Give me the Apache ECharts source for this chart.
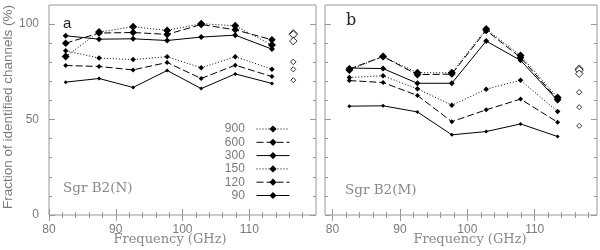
<!DOCTYPE html>
<html><head><meta charset="utf-8">
<script src="https://cdn.jsdelivr.net/npm/echarts@6/dist/echarts.min.js"></script>
<style>html,body{margin:0;padding:0;background:#fff}#c{width:600px;height:250px}</style>
</head><body><div id="c"></div>
<script>
// Frequencies (GHz) of the band centres
const freqs = [82.5, 87.5, 92.6, 97.7, 102.8, 107.9, 113.4];
const avgFreq = 116.6;
const seriesNames = ['900', '600', '300', '150', '120', '90'];
// Sgr B2(N)
const n900 = [83.0, 95.8, 98.6, 96.7, 100.2, 99.1, 89.0];
const n600 = [90.0, 95.3, 95.6, 94.6, 99.8, 97.0, 91.8];
const n300 = [93.9, 92.1, 92.3, 91.4, 93.2, 94.2, 86.9];
const n150 = [86.0, 82.2, 81.4, 82.9, 77.1, 82.9, 76.4];
const n120 = [78.3, 77.8, 76.0, 79.9, 71.5, 78.5, 72.5];
const n90  = [69.6, 71.5, 66.8, 75.7, 66.2, 73.9, 68.9];
const nAvg = [95.0, 94.5, 91.1, 80.2, 76.3, 70.6];
// Sgr B2(M)
const m900 = [76.0, 83.0, 74.5, 74.5, 97.4, 83.5, 61.5];
const m600 = [76.5, 83.0, 73.5, 73.8, 96.7, 82.5, 60.5];
const m300 = [77.0, 76.7, 69.0, 69.0, 91.1, 81.0, 60.0];
const m150 = [72.0, 72.9, 66.1, 57.5, 65.9, 70.6, 54.2];
const m120 = [70.4, 69.4, 62.6, 48.9, 55.1, 60.7, 48.6];
const m90  = [57.0, 57.2, 54.0, 42.0, 43.7, 47.7, 41.1];
const mAvg = [76.5, 75.8, 74.0, 64.3, 56.5, 46.7];
// tick values
const xMajor = [80, 90, 100, 110];
const xMinor = [82, 84, 86, 88, 92, 94, 96, 98, 102, 104, 106, 108, 112, 114, 116, 118];
const yMajor = [0, 50, 100];
const yMinor = [10, 20, 30, 40, 60, 70, 80, 90];

const styles = {
  '900': {type: [1, 2], size: 8},
  '600': {type: [7, 3], size: 7.5},
  '300': {type: 'solid', size: 6},
  '150': {type: [1, 2], size: 5.5},
  '120': {type: [7, 3], size: 5},
  '90':  {type: 'solid', size: 4}
};
const avgSizes = [8, 8, 7.5, 5.5, 5, 5];

const gray = '#999';
const txt = '#7a7a7a';
const panels = [
  {grid: {left: 49, top: 5, width: 267, height: 210}, xmin: 80, xmax: 120,
   data: [n900, n600, n300, n150, n120, n90], avg: nAvg, ylabels: true},
  {grid: {left: 325, top: 5, width: 272, height: 210}, xmin: 78.89, xmax: 119.24,
   data: [m900, m600, m300, m150, m120, m90], avg: mAvg, ylabels: false}
];

const grid = [], xAxis = [], yAxis = [], series = [];
panels.forEach((p, gi) => {
  grid.push(Object.assign({show: true, borderColor: gray, borderWidth: 1, backgroundColor: 'transparent'}, p.grid));
  const xBase = {type: 'value', gridIndex: gi, min: p.xmin, max: p.xmax, splitLine: {show: false}, axisLine: {show: false}};
  const yBase = {type: 'value', gridIndex: gi, min: 0, max: 110, splitLine: {show: false}, axisLine: {show: false}};
  [['bottom', xMajor, 6, true], ['bottom', xMinor, 3, false], ['top', xMajor, 6, false], ['top', xMinor, 3, false]].forEach(([pos, vals, len, lab]) => {
    xAxis.push(Object.assign({}, xBase, {position: pos,
      axisTick: {show: true, inside: true, length: len, customValues: vals, lineStyle: {color: gray}},
      axisLabel: {show: lab, customValues: vals, color: txt, fontFamily: 'Liberation Sans', fontSize: 12, margin: 9}}));
  });
  [['left', yMajor, 6, p.ylabels], ['left', yMinor, 3, false], ['right', yMajor, 6, false], ['right', yMinor, 3, false]].forEach(([pos, vals, len, lab]) => {
    yAxis.push(Object.assign({}, yBase, {position: pos,
      axisTick: {show: true, inside: true, length: len, customValues: vals, lineStyle: {color: gray}},
      axisLabel: {show: lab, customValues: vals, color: txt, fontFamily: 'Liberation Sans', fontSize: 12, margin: 10}}));
  });
  seriesNames.forEach((nm, si) => {
    const st = styles[nm];
    series.push({
      name: nm, type: 'line', xAxisIndex: gi * 4, yAxisIndex: gi * 4,
      data: freqs.map((f, i) => [f, p.data[si][i]]),
      symbol: 'diamond', symbolSize: st.size, showSymbol: true,
      lineStyle: {color: '#000', width: 1, type: st.type},
      itemStyle: {color: '#000'}, animation: false, z: 3
    });
  });
  series.push({
    name: 'avg', type: 'scatter', xAxisIndex: gi * 4, yAxisIndex: gi * 4,
    data: p.avg.map((v, i) => ({value: [avgFreq, v], symbolSize: avgSizes[i]})),
    symbol: 'diamond',
    itemStyle: {color: '#fff', borderColor: '#000', borderWidth: 1}, animation: false
  });
});

const chart = echarts.init(document.getElementById('c'), null, {renderer: 'canvas'});
chart.setOption({
  animation: false,
  grid, xAxis, yAxis, series,
  legend: {
    data: seriesNames, orient: 'vertical', align: 'right', right: 305, top: 117.5,
    itemWidth: 33, itemHeight: 9, itemGap: 0.3, selectedMode: false,
    lineStyle: {width: 1},
    formatter: n => n + '  ',
    textStyle: {color: txt, fontFamily: 'Liberation Sans', fontSize: 12, lineHeight: 13}
  },
  graphic: [
    {type: 'text', left: 63, top: 16, style: {text: 'a', fill: '#222', font: '15px "Liberation Sans"'}},
    {type: 'text', left: 346, top: 13, style: {text: 'b', fill: '#222', font: '16px "DejaVu Serif"'}},
    {type: 'text', left: 63, top: 181, style: {text: 'Sgr B2(N)', fill: '#888', font: '13.5px "DejaVu Serif"'}},
    {type: 'text', left: 345, top: 183, style: {text: 'Sgr B2(M)', fill: '#888', font: '13.5px "DejaVu Serif"'}},
    {type: 'text', x: 170, y: 240, style: {text: 'Frequency (GHz)', fill: '#888', font: '13px "DejaVu Serif"', align: 'center', verticalAlign: 'middle'}},
    {type: 'text', x: 470, y: 240, style: {text: 'Frequency (GHz)', fill: '#888', font: '13px "DejaVu Serif"', align: 'center', verticalAlign: 'middle'}},
    {type: 'text', x: 8, y: 107, rotation: Math.PI / 2, style: {text: 'Fraction of identified channels (%)', fill: txt, font: '13.5px "Liberation Sans"', align: 'center', verticalAlign: 'middle'}}
  ]
});
</script></body></html>
